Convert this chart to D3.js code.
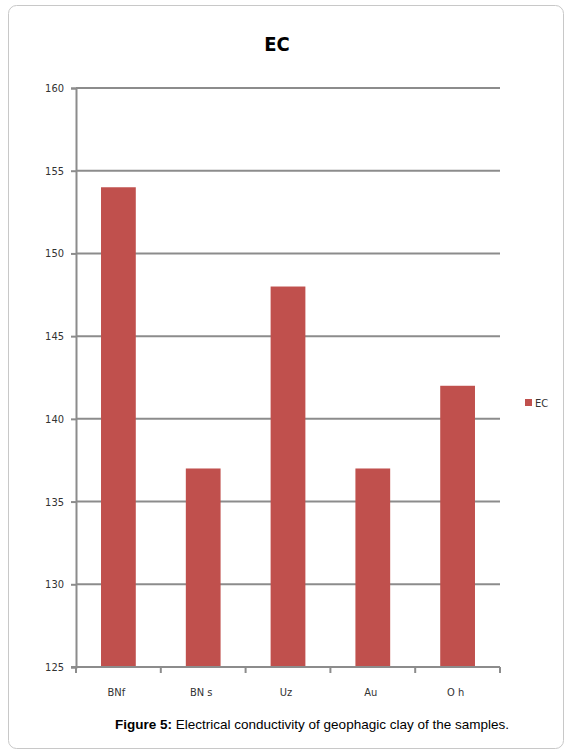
<!DOCTYPE html>
<html><head><meta charset="utf-8">
<script src="https://cdn.jsdelivr.net/npm/d3@7"></script>
<style>body{margin:0;background:#fff}</style>
</head><body>
<svg id="c" width="572" height="754"></svg>
<script>
const categories = ["BNf", "BN s", "Uz", "Au", "O h"];
const ecValues = [154, 137, 148, 137, 142];
const yTicks = [125, 130, 135, 140, 145, 150, 155, 160];
const seriesName = "EC";

(function () {
const svg = d3.select("#c");
const pLeft = 76, pRight = 500, pTop = 88, pBottom = 667;
const barColor = "#c0504d";
const gridColor = "#8c8c8c";
const axisFont = "'DejaVu Sans Condensed', 'DejaVu Sans', sans-serif";

svg.append("rect").attr("x", 8.5).attr("y", 5.5).attr("width", 555).attr("height", 743)
  .attr("rx", 8).attr("fill", "#fff").attr("stroke", "#c8c8c8").attr("stroke-width", 1);

const x = d3.scaleBand().domain(categories).range([pLeft, pRight]).paddingInner(0.59).paddingOuter(0.295);
const y = d3.scaleLinear().domain([125, 160]).range([pBottom, pTop]);

// gridlines
svg.append("g").selectAll("line").data(yTicks.filter(d => d > 125)).join("line")
  .attr("x1", pLeft).attr("x2", pRight).attr("y1", d => y(d)).attr("y2", d => y(d))
  .attr("stroke", gridColor).attr("stroke-width", 2);

// bars
svg.append("g").selectAll("rect").data(categories).join("rect")
  .attr("x", d => x(d)).attr("width", x.bandwidth())
  .attr("y", (d, i) => y(ecValues[i])).attr("height", (d, i) => y(125) - y(ecValues[i]))
  .attr("fill", barColor);

// y axis
const yAxis = d3.axisLeft(y).tickValues(yTicks).tickSize(5).tickPadding(7).tickFormat(d3.format("d"));
const gy = svg.append("g").attr("transform", `translate(${pLeft},0)`).call(yAxis);
gy.select(".domain").attr("stroke", gridColor).attr("stroke-width", 2);
gy.selectAll(".tick line").attr("stroke", gridColor).attr("stroke-width", 2);
gy.selectAll("text").attr("font-family", axisFont).attr("font-size", 11).attr("fill", "#333");

// x axis
const xEdges = d3.scaleLinear().domain([0, categories.length]).range([pLeft, pRight]);
svg.append("line").attr("x1", pLeft - 5).attr("x2", pRight).attr("y1", pBottom).attr("y2", pBottom)
  .attr("stroke", gridColor).attr("stroke-width", 2);
svg.append("g").selectAll("line").data(d3.range(categories.length + 1)).join("line")
  .attr("x1", d => xEdges(d)).attr("x2", d => xEdges(d)).attr("y1", pBottom).attr("y2", pBottom + 6)
  .attr("stroke", gridColor).attr("stroke-width", 2);
svg.append("g").selectAll("text").data(categories).join("text")
  .attr("x", d => x(d) + x.bandwidth() / 2 - 2).attr("y", pBottom + 29)
  .attr("text-anchor", "middle").attr("font-family", axisFont).attr("font-size", 11).attr("fill", "#333")
  .text(d => d);

// title
svg.append("text").attr("x", 277).attr("y", 51).attr("text-anchor", "middle")
  .attr("font-family", axisFont).attr("font-weight", "bold").attr("font-size", 20).attr("fill", "#000")
  .text(seriesName);

// legend
svg.append("rect").attr("x", 525).attr("y", 399).attr("width", 7).attr("height", 7).attr("fill", barColor);
svg.append("text").attr("x", 535).attr("y", 407).attr("font-family", axisFont).attr("font-size", 11)
  .attr("fill", "#333").text(seriesName);

// caption
const cap = svg.append("text").attr("x", 312).attr("y", 729).attr("text-anchor", "middle")
  .attr("font-family", "'Liberation Sans', Arial, sans-serif").attr("font-size", 13.5).attr("fill", "#000");
cap.append("tspan").attr("font-weight", "bold").text("Figure 5:");
cap.append("tspan").text(" Electrical conductivity of geophagic clay of the samples.");
})();
</script>
</body></html>
